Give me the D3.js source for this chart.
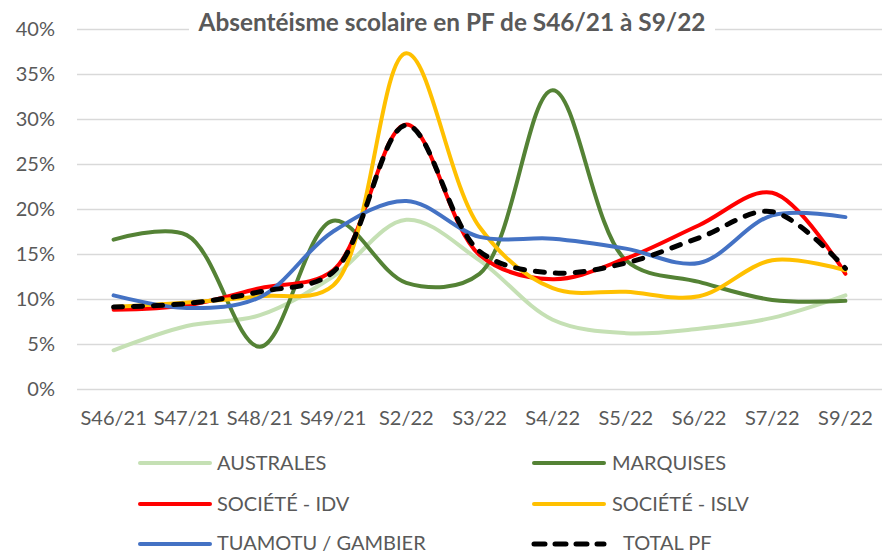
<!DOCTYPE html>
<html>
<head>
<meta charset="utf-8">
<script src="https://cdn.jsdelivr.net/npm/d3@7"></script>
<style>
  html, body { margin: 0; padding: 0; background: #fff; }
  svg { display: block; font-family: Lato, "Open Sans", sans-serif; }
</style>
</head>
<body>
<svg id="chart" width="886" height="553"></svg>
<script>
const titleText = "Absentéisme scolaire en PF de S46/21 à S9/22";
const categories = ["S46/21","S47/21","S48/21","S49/21","S2/22","S3/22","S4/22","S5/22","S6/22","S7/22","S9/22"];
const yTicks = [0,5,10,15,20,25,30,35,40];

const australes = [4.3, 7.0, 8.2, 12.5, 18.8, 14.3, 7.7, 6.2, 6.7, 7.9, 10.4];
const marquises = [16.6, 17.1, 4.7, 18.7, 11.8, 12.8, 33.2, 14.3, 11.9, 9.9, 9.8];
const societeIdv = [8.8, 9.3, 11.2, 13.2, 29.4, 14.9, 12.2, 14.5, 18.2, 21.8, 12.8];
const societeIslv = [9.1, 9.6, 10.3, 11.5, 37.3, 18.0, 11.2, 10.8, 10.3, 14.3, 13.2];
const tuamotu = [10.4, 9.0, 10.2, 17.5, 20.9, 16.9, 16.7, 15.6, 14.0, 19.3, 19.1];
const totalPf = [9.1, 9.5, 10.8, 13.0, 29.3, 15.3, 12.9, 14.0, 16.8, 19.7, 13.4];

const seriesNames = ["AUSTRALES","MARQUISES","SOCIÉTÉ - IDV","SOCIÉTÉ - ISLV","TUAMOTU / GAMBIER","TOTAL PF"];
const seriesColors = ["#C5E0B4","#548235","#FF0000","#FFC000","#4472C4","#000000"];
const seriesValues = [australes, marquises, societeIdv, societeIslv, tuamotu, totalPf];

(function () {
const svg = d3.select("#chart");
const plotLeft = 77, plotRight = 882, plotTop = 29, plotBottom = 389;
const textColor = "#595959";
const fs = "20px";

const x = d3.scaleBand().domain(categories).range([plotLeft, plotRight]).padding(0);
const y = d3.scaleLinear().domain([0, 40]).range([plotBottom, plotTop]);
const cx = c => x(c) + x.bandwidth() / 2;

// gridlines
const grid = svg.append("g").attr("transform", `translate(${plotLeft},0)`)
  .call(d3.axisLeft(y).tickValues(yTicks).tickSize(-(plotRight - plotLeft)).tickFormat(""));
grid.select(".domain").remove();
grid.selectAll("line").attr("stroke", "#D9D9D9").attr("stroke-width", 1.5);

// y axis labels
const yAxis = svg.append("g").attr("transform", `translate(55,0)`)
  .call(d3.axisLeft(y).tickValues(yTicks).tickSize(0).tickPadding(0).tickFormat(d => d + "%"));
yAxis.select(".domain").remove();
yAxis.selectAll("text").attr("fill", textColor).style("font-size", fs).style("font-family", "Lato, sans-serif");

// x axis labels
const xAxis = svg.append("g").attr("transform", `translate(0,${plotBottom})`)
  .call(d3.axisBottom(x).tickSize(0).tickPadding(22));
xAxis.select(".domain").remove();
xAxis.selectAll("text").attr("fill", textColor).style("font-size", fs).style("font-family", "Lato, sans-serif");

// lines
const line = d3.line().x((d, i) => cx(categories[i])).y(d => y(d)).curve(d3.curveCatmullRom.alpha(0.5));
const linesG = svg.append("g");
seriesValues.forEach((vals, k) => {
  const p = linesG.append("path").datum(vals)
    .attr("d", line).attr("fill", "none")
    .attr("stroke", seriesColors[k]).attr("stroke-width", k === 5 ? 5 : 4)
    .attr("stroke-linejoin", "round").attr("stroke-linecap", "round");
  if (k === 5) p.attr("stroke-dasharray", "9,11");
});

// title with white background
svg.append("rect").attr("x", 189).attr("y", 8).attr("width", 715 - 189).attr("height", 34).attr("fill", "#fff");
const title = svg.append("text").attr("x", 452).attr("y", 31).attr("text-anchor", "middle")
  .attr("fill", textColor).style("font-weight", "bold").style("font-size", "21px").text(titleText);
const tw = title.node().getComputedTextLength();
title.style("font-size", (21 * 507 / tw).toFixed(2) + "px");

// legend
const legendPos = [
  {lx: 140, tx: 217, y: 463}, {lx: 534, tx: 612, y: 463},
  {lx: 140, tx: 217, y: 504}, {lx: 534, tx: 612, y: 504},
  {lx: 140, tx: 217, y: 544}, {lx: 534, tx: 623, y: 544}
];
const legend = svg.append("g");
seriesNames.forEach((name, k) => {
  const p = legendPos[k];
  const ln = legend.append("line").attr("x1", p.lx).attr("x2", p.lx + 70).attr("y1", p.y).attr("y2", p.y)
    .attr("stroke", seriesColors[k]).attr("stroke-width", k === 5 ? 5 : 4).attr("stroke-linecap", "round");
  if (k === 5) ln.attr("stroke-dasharray", "11,10");
  legend.append("text").attr("x", p.tx).attr("y", p.y).attr("dy", k >= 4 ? "0.28em" : "0.35em")
    .attr("fill", textColor).style("font-size", fs).text(name);
});
})();
</script>
</body>
</html>
